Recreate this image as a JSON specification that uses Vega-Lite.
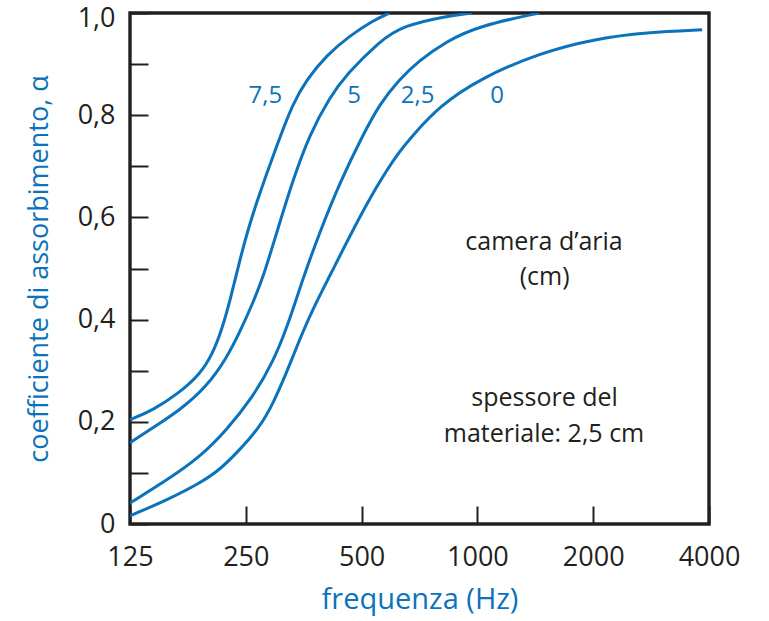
{
  "$schema": "https://vega.github.io/schema/vega-lite/v6.json",
  "autosize": "none",
  "width": 579,
  "height": 511,
  "padding": {"left": 130, "top": 13, "right": 60, "bottom": 97},
  "background": "white",
  "config": {
    "view": {"stroke": "#231F20", "strokeWidth": 3.4},
    "font": "Open Sans",
    "axis": {
      "domain": false,
      "grid": false,
      "tickColor": "#231F20",
      "tickWidth": 2,
      "labelColor": "#231F20",
      "labelFont": "Open Sans",
      "labelFontSize": 27,
      "titleFont": "Open Sans",
      "titleFontSize": 27,
      "titleFontWeight": "normal",
      "titleColor": "#0B72BC"
    }
  },
  "datasets": {
    "curves": [
      {"camera": "7,5", "f": 125, "a": 0.204},
      {"camera": "7,5", "f": 143, "a": 0.222},
      {"camera": "7,5", "f": 168, "a": 0.257},
      {"camera": "7,5", "f": 190, "a": 0.293},
      {"camera": "7,5", "f": 205, "a": 0.333},
      {"camera": "7,5", "f": 217, "a": 0.382},
      {"camera": "7,5", "f": 228, "a": 0.440},
      {"camera": "7,5", "f": 240, "a": 0.510},
      {"camera": "7,5", "f": 253, "a": 0.575},
      {"camera": "7,5", "f": 267, "a": 0.630},
      {"camera": "7,5", "f": 283, "a": 0.685},
      {"camera": "7,5", "f": 306, "a": 0.755},
      {"camera": "7,5", "f": 331, "a": 0.822},
      {"camera": "7,5", "f": 360, "a": 0.870},
      {"camera": "7,5", "f": 406, "a": 0.918},
      {"camera": "7,5", "f": 465, "a": 0.955},
      {"camera": "7,5", "f": 534, "a": 0.985},
      {"camera": "7,5", "f": 591, "a": 1.0},
      {"camera": "5", "f": 125, "a": 0.159},
      {"camera": "5", "f": 143, "a": 0.188},
      {"camera": "5", "f": 168, "a": 0.222},
      {"camera": "5", "f": 198, "a": 0.269},
      {"camera": "5", "f": 223, "a": 0.325},
      {"camera": "5", "f": 241, "a": 0.375},
      {"camera": "5", "f": 261, "a": 0.433},
      {"camera": "5", "f": 278, "a": 0.485},
      {"camera": "5", "f": 301, "a": 0.571},
      {"camera": "5", "f": 331, "a": 0.672},
      {"camera": "5", "f": 366, "a": 0.762},
      {"camera": "5", "f": 413, "a": 0.835},
      {"camera": "5", "f": 457, "a": 0.880},
      {"camera": "5", "f": 557, "a": 0.945},
      {"camera": "5", "f": 640, "a": 0.975},
      {"camera": "5", "f": 831, "a": 0.994},
      {"camera": "5", "f": 970, "a": 1.0},
      {"camera": "2,5", "f": 125, "a": 0.041},
      {"camera": "2,5", "f": 156, "a": 0.086},
      {"camera": "2,5", "f": 190, "a": 0.131},
      {"camera": "2,5", "f": 223, "a": 0.184},
      {"camera": "2,5", "f": 261, "a": 0.249},
      {"camera": "2,5", "f": 294, "a": 0.316},
      {"camera": "2,5", "f": 322, "a": 0.390},
      {"camera": "2,5", "f": 351, "a": 0.478},
      {"camera": "2,5", "f": 389, "a": 0.571},
      {"camera": "2,5", "f": 440, "a": 0.670},
      {"camera": "2,5", "f": 503, "a": 0.760},
      {"camera": "2,5", "f": 557, "a": 0.822},
      {"camera": "2,5", "f": 627, "a": 0.870},
      {"camera": "2,5", "f": 700, "a": 0.905},
      {"camera": "2,5", "f": 831, "a": 0.945},
      {"camera": "2,5", "f": 1012, "a": 0.975},
      {"camera": "2,5", "f": 1448, "a": 1.0},
      {"camera": "0", "f": 125, "a": 0.016},
      {"camera": "0", "f": 156, "a": 0.047},
      {"camera": "0", "f": 190, "a": 0.080},
      {"camera": "0", "f": 214, "a": 0.106},
      {"camera": "0", "f": 241, "a": 0.145},
      {"camera": "0", "f": 272, "a": 0.190},
      {"camera": "0", "f": 294, "a": 0.235},
      {"camera": "0", "f": 319, "a": 0.296},
      {"camera": "0", "f": 345, "a": 0.361},
      {"camera": "0", "f": 373, "a": 0.420},
      {"camera": "0", "f": 413, "a": 0.485},
      {"camera": "0", "f": 474, "a": 0.575},
      {"camera": "0", "f": 547, "a": 0.661},
      {"camera": "0", "f": 616, "a": 0.722},
      {"camera": "0", "f": 678, "a": 0.760},
      {"camera": "0", "f": 797, "a": 0.818},
      {"camera": "0", "f": 1012, "a": 0.871},
      {"camera": "0", "f": 1448, "a": 0.922},
      {"camera": "0", "f": 2036, "a": 0.950},
      {"camera": "0", "f": 2745, "a": 0.962},
      {"camera": "0", "f": 3840, "a": 0.967}
    ],
    "curveLabels": [
      {"label": "7,5", "f": 281, "a": 0.837},
      {"label": "5", "f": 478, "a": 0.837},
      {"label": "2,5", "f": 699, "a": 0.837},
      {"label": "0", "f": 1125, "a": 0.837}
    ],
    "notes": [
      {"text": "camera d’aria", "f": 1490, "a": 0.551},
      {"text": "(cm)", "f": 1495, "a": 0.484},
      {"text": "spessore del", "f": 1495, "a": 0.247},
      {"text": "materiale: 2,5 cm", "f": 1490, "a": 0.176}
    ]
  },
  "layer": [
    {
      "data": {"name": "curves"},
      "mark": {"type": "line", "color": "#0B72BC", "strokeWidth": 3, "interpolate": "basis", "clip": true},
      "encoding": {
        "x": {
          "field": "f", "type": "quantitative",
          "scale": {"type": "log", "domain": [125, 4000], "nice": false},
          "axis": {
            "title": "frequenza (Hz)",
            "titleFontSize": 29,
            "values": [125, 250, 500, 1000, 2000, 4000],
            "format": "d",
            "labelFlush": false,
            "labelOverlap": false,
            "tickSize": -18,
            "labelPadding": 38,
            "titlePadding": 15
          }
        },
        "y": {
          "field": "a", "type": "quantitative",
          "scale": {"domain": [0, 1], "nice": false, "zero": true},
          "axis": {
            "title": "coefficiente di assorbimento, α",
            "values": [0, 0.1, 0.2, 0.3, 0.4, 0.5, 0.6, 0.7, 0.8, 0.9, 1.0],
            "labelExpr": "round(datum.value*10) % 2 == 0 ? (datum.value == 0 ? '0' : replace(format(datum.value, '.1f'), '.', ',')) : ''",
            "labelOffset": {"condition": {"test": "datum.value == 1", "value": 5}, "value": 0},
            "labelFlush": false,
            "labelOverlap": false,
            "tickSize": -18,
            "labelPadding": 33,
            "titlePadding": 24
          }
        },
        "detail": {"field": "camera", "type": "nominal"}
      }
    },
    {
      "data": {"name": "curveLabels"},
      "mark": {"type": "text", "color": "#0B72BC", "fontSize": 24, "font": "Open Sans", "align": "center", "baseline": "middle"},
      "encoding": {
        "x": {"field": "f", "type": "quantitative"},
        "y": {"field": "a", "type": "quantitative"},
        "text": {"field": "label"}
      }
    },
    {
      "data": {"name": "notes"},
      "mark": {"type": "text", "color": "#231F20", "fontSize": 25, "font": "Open Sans", "align": "center", "baseline": "middle"},
      "encoding": {
        "x": {"field": "f", "type": "quantitative"},
        "y": {"field": "a", "type": "quantitative"},
        "text": {"field": "text"}
      }
    }
  ]
}
